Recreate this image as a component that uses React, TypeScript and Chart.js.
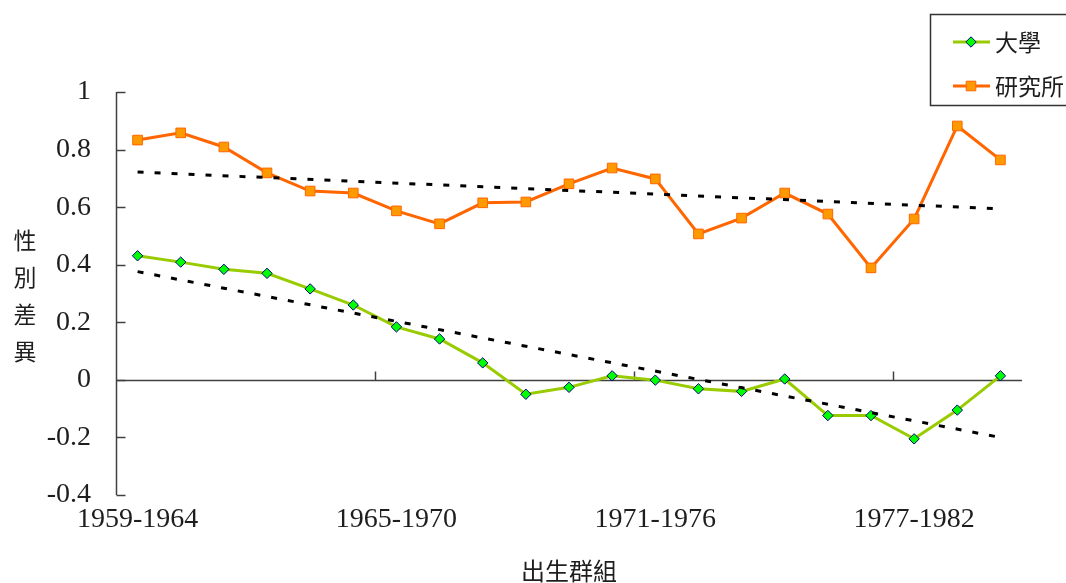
import React, { useEffect, useRef } from 'react';
import { Chart, registerables } from 'chart.js';

Chart.register(...registerables);

const categories = [
  '1959-1964', '1960-1965', '1961-1966', '1962-1967', '1963-1968', '1964-1969',
  '1965-1970', '1966-1971', '1967-1972', '1968-1973', '1969-1974', '1970-1975',
  '1971-1976', '1972-1977', '1973-1978', '1974-1979', '1975-1980', '1976-1981',
  '1977-1982', '1978-1983', '1979-1984',
];

const universityLabel = '大學';
const graduateLabel = '研究所';

const universityValues = [
  0.431, 0.409, 0.384, 0.37, 0.316, 0.26, 0.184, 0.142, 0.059, -0.05, -0.026,
  0.014, -0.001, -0.031, -0.04, 0.003, -0.124, -0.124, -0.205, -0.105, 0.014,
];

const graduateValues = [
  0.833, 0.858, 0.809, 0.719, 0.656, 0.649, 0.587, 0.542, 0.615, 0.618, 0.681,
  0.736, 0.698, 0.507, 0.562, 0.649, 0.576, 0.389, 0.559, 0.882, 0.764,
];

// trend line values at the first and the last category
const universityTrend = [0.376, -0.2];
const graduateTrend = [0.722, 0.594];

const yMin = -0.4;
const yMax = 1;
const yStep = 0.2;
const labelEvery = 6;

const yTitleChars = ['性', '別', '差', '異'];
const xTitle = '出生群組';

const serif = '"Liberation Serif", "Times New Roman", serif';
const cjk = '"Noto Sans CJK TC", "Noto Sans CJK SC", sans-serif';
const textColor = '#1e1e1e';
const axisColor = '#404040';

const uniStyle = { line: '#99CC00', fill: '#00FF00', border: '#000080', shape: 'rectRot', radius: 5.2 };
const gradStyle = { line: '#FF6600', fill: '#FF9900', border: '#FF6600', shape: 'rect', radius: 6.8 };

function trendData(pair: number[]) {
  const last = categories.length - 1;
  return categories.map((_, i) => (i === 0 ? pair[0] : i === last ? pair[1] : null));
}

const axesPlugin = {
  id: 'excelAxes',
  beforeDatasetsDraw(chart: any) {
    const { ctx, chartArea } = chart;
    const x = chart.scales.x;
    const y = chart.scales.y;
    ctx.save();
    ctx.strokeStyle = axisColor;
    ctx.lineWidth = 1.5;
    const left = Math.round(chartArea.left) + 0.5;
    const right = chartArea.right;
    ctx.beginPath();
    ctx.moveTo(left, chartArea.top);
    ctx.lineTo(left, chartArea.bottom);
    ctx.stroke();
    for (let v = yMin; v <= yMax + 1e-9; v += yStep) {
      const py = Math.round(y.getPixelForValue(v)) + 0.5;
      ctx.beginPath();
      ctx.moveTo(left, py);
      ctx.lineTo(left + 9, py);
      ctx.stroke();
    }
    const zy = Math.round(y.getPixelForValue(0)) + 0.5;
    ctx.beginPath();
    ctx.moveTo(left, zy);
    ctx.lineTo(right, zy);
    ctx.stroke();
    for (let i = labelEvery; i < categories.length; i += labelEvery) {
      const px = Math.round(x.getPixelForValue(i - 0.5)) + 0.5;
      ctx.beginPath();
      ctx.moveTo(px, zy);
      ctx.lineTo(px, zy - 9);
      ctx.stroke();
    }
    ctx.restore();
  },
  afterDraw(chart: any) {
    const { ctx } = chart;
    ctx.save();
    ctx.fillStyle = textColor;
    ctx.font = `23px ${cjk}`;
    ctx.textAlign = 'center';
    ctx.textBaseline = 'middle';
    yTitleChars.forEach((ch, i) => {
      ctx.fillText(ch, 25, 240 + i * 37);
    });
    ctx.strokeStyle = '#333';
    ctx.lineWidth = 1.5;
    ctx.strokeRect(930.5, 14.5, 160, 91);
    const entries = [
      { label: universityLabel, st: uniStyle, y: 42 },
      { label: graduateLabel, st: gradStyle, y: 86 },
    ];
    entries.forEach((e) => {
      ctx.strokeStyle = e.st.line;
      ctx.lineWidth = 3;
      ctx.beginPath();
      ctx.moveTo(953, e.y);
      ctx.lineTo(990, e.y);
      ctx.stroke();
      ctx.fillStyle = e.st.fill;
      ctx.strokeStyle = e.st.border;
      ctx.lineWidth = 1;
      ctx.beginPath();
      if (e.st.shape === 'rectRot') {
        const r = e.st.radius;
        ctx.moveTo(971, e.y - r);
        ctx.lineTo(971 + r, e.y);
        ctx.lineTo(971, e.y + r);
        ctx.lineTo(971 - r, e.y);
        ctx.closePath();
      } else {
        const h = e.st.radius * Math.SQRT1_2;
        ctx.rect(971 - h, e.y - h, 2 * h, 2 * h);
      }
      ctx.fill();
      ctx.stroke();
      ctx.fillStyle = textColor;
      ctx.font = `23px ${cjk}`;
      ctx.textAlign = 'left';
      ctx.textBaseline = 'middle';
      ctx.fillText(e.label, 995, e.y);
    });
    ctx.restore();
  },
};

export default function App() {
  const ref = useRef<HTMLCanvasElement>(null);

  useEffect(() => {
    if (!ref.current) return;
    const chart = new Chart(ref.current, {
      type: 'line',
      data: {
        labels: categories,
        datasets: [
          {
            label: universityLabel + ' trend',
            data: trendData(universityTrend),
            borderColor: '#000',
            borderWidth: 3,
            borderDash: [6, 11],
            pointRadius: 0,
            spanGaps: true,
            order: 0,
          },
          {
            label: graduateLabel + ' trend',
            data: trendData(graduateTrend),
            borderColor: '#000',
            borderWidth: 3,
            borderDash: [6, 11],
            pointRadius: 0,
            spanGaps: true,
            order: 0,
          },
          {
            label: universityLabel,
            data: universityValues,
            borderColor: uniStyle.line,
            borderWidth: 3,
            pointStyle: uniStyle.shape as any,
            pointRadius: uniStyle.radius,
            pointBackgroundColor: uniStyle.fill,
            pointBorderColor: uniStyle.border,
            pointBorderWidth: 1,
            tension: 0,
            order: 1,
          },
          {
            label: graduateLabel,
            data: graduateValues,
            borderColor: gradStyle.line,
            borderWidth: 3,
            pointStyle: gradStyle.shape as any,
            pointRadius: gradStyle.radius,
            pointBackgroundColor: gradStyle.fill,
            pointBorderColor: gradStyle.border,
            pointBorderWidth: 1,
            tension: 0,
            order: 2,
          },
        ],
      },
      options: {
        animation: false,
        responsive: false,
        events: [],
        layout: { padding: { left: 0, right: 44, top: 92, bottom: 0 } },
        plugins: {
          legend: { display: false },
          tooltip: { enabled: false },
        },
        scales: {
          x: {
            type: 'category',
            offset: true,
            grid: { display: false, drawTicks: false },
            border: { display: false },
            afterFit: (s: any) => { s.height = 88; },
            ticks: {
              autoSkip: false,
              maxRotation: 0,
              minRotation: 0,
              padding: 8,
              color: textColor,
              font: { family: serif, size: 28 },
              callback: (_v: any, i: number) => (i % labelEvery === 0 ? categories[i] : ''),
            },
            title: {
              display: true,
              text: xTitle,
              color: textColor,
              font: { family: cjk, size: 24, lineHeight: 1.0 },
              padding: { top: 0, bottom: 0 },
            },
          },
          y: {
            min: yMin,
            max: yMax,
            grid: { display: false, drawTicks: false },
            border: { display: false },
            afterFit: (s: any) => { s.width = 116; },
            ticks: {
              stepSize: yStep,
              padding: 25,
              color: textColor,
              font: { family: serif, size: 28 },
              callback: (v: any) => String(Math.round(Number(v) * 10) / 10),
            },
          },
        },
      },
      plugins: [axesPlugin],
    });
    return () => chart.destroy();
  }, []);

  return (
    <canvas
      ref={ref}
      width={1066}
      height={583}
      style={{ position: 'fixed', left: 0, top: 0, display: 'block', background: '#fff' }}
    />
  );
}
